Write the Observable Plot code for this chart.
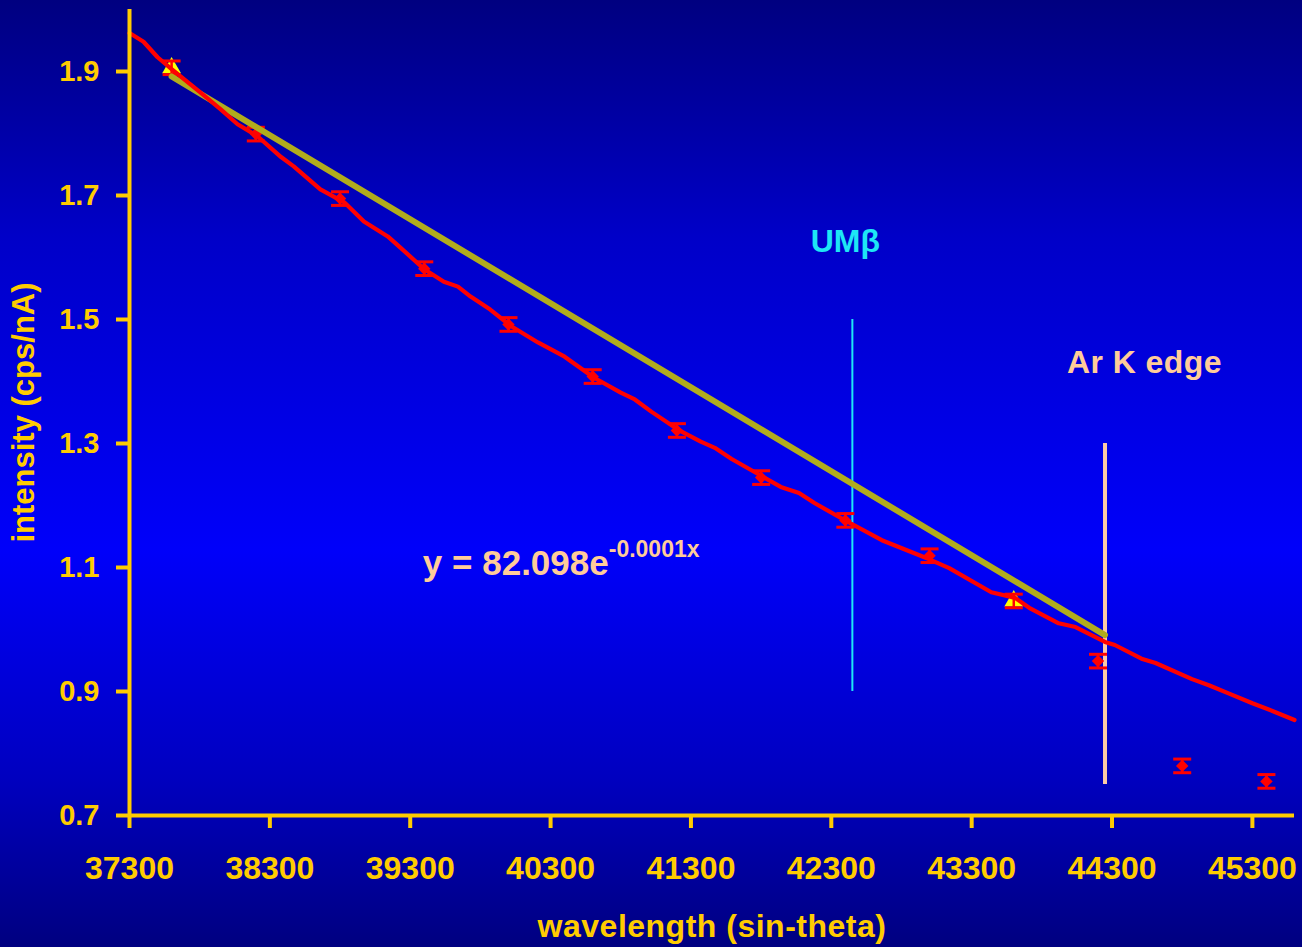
<!DOCTYPE html>
<html>
<head>
<meta charset="utf-8">
<script src="https://cdn.jsdelivr.net/npm/d3@7"></script>
<script src="https://cdn.jsdelivr.net/npm/@observablehq/plot@0.6"></script>
<style>
  html, body { margin: 0; padding: 0; }
  #chart {
    width: 1302px;
    height: 947px;
    background: linear-gradient(to bottom, #000080 0%, #0000c8 25%, #0000fa 58%, #0000c0 82%, #000080 100%);
  }
  #chart svg { display: block; }
</style>
</head>
<body>
<div id="chart"></div>
<script>
// Background measurements (diamonds) with their error bars
const measX = [38200, 38800, 39400, 40000, 40600, 41200, 41800, 42400, 43000, 44200, 44800, 45400];
const measY = [1.799, 1.695, 1.582, 1.492, 1.408, 1.321, 1.245, 1.176, 1.119, 0.949, 0.780, 0.755];
const measErr = [0.011, 0.011, 0.011, 0.011, 0.011, 0.011, 0.011, 0.011, 0.011, 0.011, 0.011, 0.011];

// Reference points used for the linear interpolation (triangles)
const refX = [37600, 43600];
const refY = [1.906, 1.046];
const refErr = [0.011, 0.011];

// Exponential fit curve, y = 82.098e^-0.0001x
const fitX = [37300, 37400, 37500, 37600, 37800, 37950, 38070, 38210, 38380, 38470, 38660, 38830, 38970, 39140,
  39230, 39400, 39540, 39640, 39730, 39870, 40020, 40210, 40400, 40610, 40800, 40900, 41020, 41210, 41370,
  41470, 41590, 41800, 41940, 42070, 42180, 42390, 42660, 42990, 43140, 43440, 43610, 43710, 43920, 44040,
  44250, 44320, 44510, 44610, 44870, 44990, 45130, 45300, 45460, 45600];
const fitY = [1.962, 1.948, 1.923, 1.904, 1.867, 1.839, 1.815, 1.796, 1.762, 1.747, 1.710, 1.689, 1.658, 1.634,
  1.616, 1.581, 1.561, 1.553, 1.537, 1.516, 1.489, 1.463, 1.440, 1.406, 1.382, 1.371, 1.351, 1.322, 1.303,
  1.293, 1.275, 1.248, 1.230, 1.220, 1.204, 1.177, 1.144, 1.114, 1.099, 1.060, 1.051, 1.035, 1.010, 1.004,
  0.980, 0.975, 0.953, 0.946, 0.920, 0.910, 0.897, 0.881, 0.867, 0.854];

// Straight interpolation between the reference points, up to the Ar K edge
const interpX = [37600, 44250];
const interpY = [1.892, 0.991];

// Marker lines
const umbX = 42450, umbY = [0.9, 1.5];
const arKX = 44250, arKY = [0.75, 1.3];

// Axis ticks
const xTicks = [37300, 38300, 39300, 40300, 41300, 42300, 43300, 44300, 45300];
const yTicks = [0.7, 0.9, 1.1, 1.3, 1.5, 1.7, 1.9];

// Text annotations (data coordinates)
const umbLabel = {x: 42400, y: 1.625, text: "UMβ"};
const arKLabel = {x: 43980, y: 1.413, text: "Ar K edge"};
const eqLabel = {x: 39390, y: 1.088, text: "y = 82.098e", exponent: "-0.0001x"};

const gold = "#ffcc00";
const red = "#ff0000";
const peach = "#ffcc99";
const cyan = "#1ee6f5";
const olive = "#b1ac1c";
const font = "'Liberation Sans', Arial, Helvetica, sans-serif";

const meas = measX.map((x, i) => ({x, y: measY[i], e: measErr[i]}));
const refs = refX.map((x, i) => ({x, y: refY[i], e: refErr[i]}));
const fit = fitX.map((x, i) => ({x, y: fitY[i]}));
const interp = interpX.map((x, i) => ({x, y: interpY[i]}));
const bars = meas.concat(refs);

// Horizontal cap used at both ends of each error bar
const capSymbol = {
  draw(context, size) {
    const w = Math.sqrt(size / Math.PI);
    context.moveTo(-w, 0);
    context.lineTo(w, 0);
  }
};

const chart = Plot.plot({
  width: 1302,
  height: 947,
  marginLeft: 129,
  marginRight: 8,
  marginTop: 9,
  marginBottom: 132,
  style: {background: "transparent", fontFamily: font, fontWeight: "bold", overflow: "visible"},
  x: {domain: [37300, 45600], type: "linear"},
  y: {domain: [0.7, 2.0], type: "linear"},
  marks: [
    // marker lines
    Plot.ruleX([{x: umbX, y1: umbY[0], y2: umbY[1]}], {x: "x", y1: "y1", y2: "y2", stroke: cyan, strokeWidth: 2}),
    Plot.ruleX([{x: arKX, y1: arKY[0], y2: arKY[1]}], {x: "x", y1: "y1", y2: "y2", stroke: "#fccaa6", strokeWidth: 4}),

    // reference triangles
    Plot.dot(refs, {x: "x", y: "y", symbol: "triangle", r: 7, fill: "#ffff00", stroke: "none"}),

    // error bars
    Plot.ruleX(bars, {x: "x", y1: d => d.y - d.e, y2: d => d.y + d.e, stroke: red, strokeWidth: 2.5}),
    Plot.dot(bars, {x: "x", y: d => d.y + d.e, symbol: capSymbol, r: 9, fill: "none", stroke: red, strokeWidth: 3}),
    Plot.dot(bars, {x: "x", y: d => d.y - d.e, symbol: capSymbol, r: 9, fill: "none", stroke: red, strokeWidth: 3}),

    // measurement diamonds
    Plot.dot(meas, {x: "x", y: "y", symbol: "diamond2", r: 5.6, fill: red, stroke: "none"}),

    // interpolation line
    Plot.line(interp, {x: "x", y: "y", stroke: olive, strokeWidth: 6}),

    // exponential fit
    Plot.line(fit, {x: "x", y: "y", stroke: red, strokeWidth: 4.2, strokeLinejoin: "round"}),

    // axes
    Plot.axisX({ticks: xTicks, tickSize: 13, tickPadding: 28, tickFormat: d => String(d), stroke: gold, strokeWidth: 4,
      fill: gold, fontSize: 32, fontWeight: "bold", label: null}),
    Plot.axisY({ticks: yTicks, tickSize: 13, tickPadding: 17, tickFormat: d => d.toFixed(1), stroke: gold, strokeWidth: 4,
      fill: gold, fontSize: 29, fontWeight: "bold", label: null}),
    Plot.ruleX([37300], {stroke: gold, strokeWidth: 4}),
    Plot.ruleY([0.7], {stroke: gold, strokeWidth: 4}),

    // axis titles
    Plot.text(["wavelength (sin-theta)"], {frameAnchor: "bottom", dy: 121, lineAnchor: "bottom", textAnchor: "middle",
      fill: gold, fontSize: 32, fontWeight: "bold", text: d => d, className: "x-title"}),
    Plot.text(["intensity (cps/nA)"], {frameAnchor: "left", dx: -96, rotate: -90, lineAnchor: "bottom", textAnchor: "middle",
      fill: gold, fontSize: 31, fontWeight: "bold", text: d => d}),

    // annotations
    Plot.text([umbLabel], {x: "x", y: "y", text: "text", fill: cyan, fontSize: 32, fontWeight: "bold", textAnchor: "middle"}),
    Plot.text([arKLabel], {x: "x", y: "y", text: "text", fill: peach, fontSize: 32, fontWeight: "bold", textAnchor: "start",
      lineAnchor: "bottom", className: "ark-label"}),
    Plot.text([eqLabel], {x: "x", y: "y", text: "text", fill: peach, fontSize: 35, fontWeight: "bold", textAnchor: "start",
      lineAnchor: "bottom", className: "eq-label"})
  ]
});

// Turn the exponent of the fit equation into a superscript
d3.select(chart).selectAll(".eq-label text").each(function () {
  const t = d3.select(this);
  const base = t.text();
  t.text(null);
  t.append("tspan").text(base);
  t.append("tspan").attr("dy", -18).attr("font-size", 23).text(eqLabel.exponent);
});

// letter spacing of the axis title and the edge label
d3.select(chart).selectAll(".x-title text").attr("letter-spacing", 0.5);
d3.select(chart).selectAll(".ark-label text").attr("letter-spacing", 0.4);

document.getElementById("chart").appendChild(chart);
</script>
</body>
</html>
